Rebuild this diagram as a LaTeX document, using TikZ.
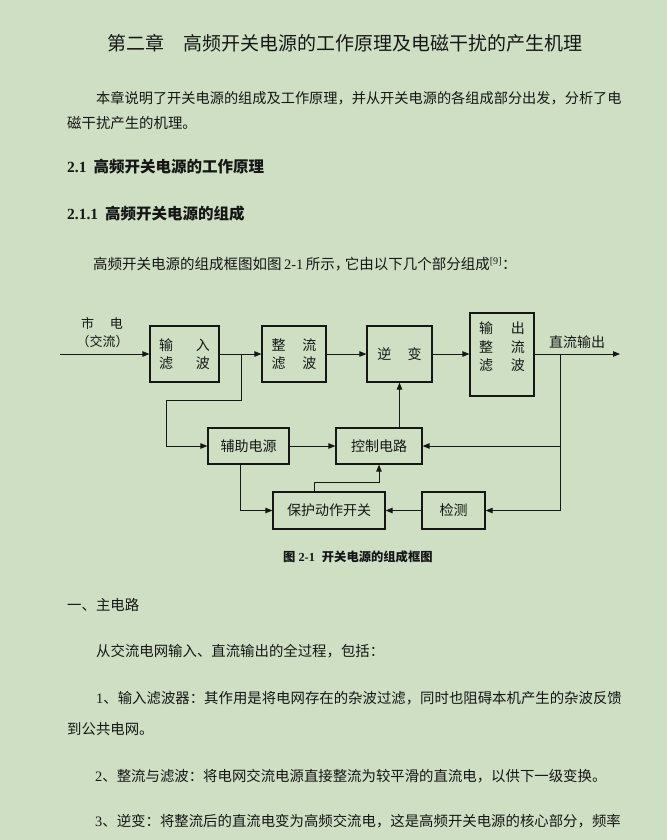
\documentclass[tikz,border=0pt]{standalone}
\usepackage{fontspec}
\setmainfont{Liberation Serif}
\newfontfamily\cjk{Noto Sans CJK SC}
\usetikzlibrary{arrows.meta}
\definecolor{bg}{RGB}{206,223,196}
\definecolor{ink}{RGB}{22,22,22}
\begin{document}
\begin{tikzpicture}[x=1pt,y=-1pt,
  txt/.style={anchor=west, inner sep=0pt, text=ink, font=\fontsize{14.4}{16}\selectfont\cjk},
  head/.style={anchor=west, inner sep=0pt, text=ink, font=\fontsize{15.5}{17}\selectfont\cjk\bfseries},
  blk/.style={draw=ink, line width=1.2pt, inner sep=0pt, text=ink, align=center, font=\fontsize{14}{18}\selectfont\cjk},
  lbl/.style={inner sep=0pt, text=ink, align=center, font=\fontsize{14}{18.5}\selectfont\cjk},
  ln/.style={draw=ink, line width=0.9pt},
  arr/.style={ln, -{Triangle[length=7pt,width=5.5pt]}}]
\path[fill=bg] (0,0) rectangle (667,840);
% ---------- text ----------
\node[txt, font=\fontsize{19}{21}\selectfont\cjk] (title) at (107,43) {第二章　高频开关电源的工作原理及电磁干扰的产生机理};
\node[txt, font=\fontsize{14.2}{16}\selectfont\cjk] (p1) at (96,98) {本章说明了开关电源的组成及工作原理，并从开关电源的各组成部分出发，分析了电};
\node[txt] (p2) at (67,123) {磁干扰产生的机理。};
\node[head] (h1) at (67,167) {{\rmfamily 2.1}\hspace{7pt}高频开关电源的工作原理};
\node[head] (h2) at (67,214) {{\rmfamily 2.1.1}\hspace{7pt}高频开关电源的组成};
\node[txt, font=\fontsize{14.5}{16}\selectfont\cjk] (p3) at (93,264) {高频开关电源的组成框图如图\,{\rmfamily 2-1}\,所示\makebox[10pt][l]{，}它由以下几个部分组成\textsuperscript{\rmfamily [9]}\makebox[8pt][l]{：}};
% ---------- diagram ----------
\node[lbl, font=\fontsize{13}{15}\selectfont\cjk] (ac1) at (102,323) {市\hspace{16pt}电};
\node[lbl, font=\fontsize{13}{15}\selectfont\cjk] (ac2) at (102.5,342) {（交流）};
\node[blk, minimum width=69pt, minimum height=56pt] (b1) at (184.5,354) {输\hspace{23pt}入\\滤\hspace{23pt}波};
\node[blk, minimum width=64pt, minimum height=56pt] (b2) at (294,354) {整\hspace{17pt}流\\滤\hspace{17pt}波};
\node[blk, minimum width=65pt, minimum height=56pt] (b3) at (399.5,354) {逆\hspace{16.5pt}变};
\node[blk, minimum width=64pt, minimum height=83pt] (b4) at (502,354.5) {};
\node[lbl] (b4t) at (502,347) {输\hspace{18pt}出\\整\hspace{18pt}流\\滤\hspace{18pt}波};
\node[lbl] (dcout) at (577,342) {直流输出};
\node[blk, minimum width=81pt, minimum height=36pt] (b5) at (248.5,446) {辅助电源};
\node[blk, minimum width=86pt, minimum height=36pt] (b6) at (379,446) {控制电路};
\node[blk, minimum width=112pt, minimum height=37pt] (b7) at (329,510.5) {保护动作开关};
\node[blk, minimum width=63pt, minimum height=37pt] (b8) at (453.5,510.5) {检测};
\coordinate (in) at (60,354);
\coordinate (out) at (620,354);
\coordinate (j1) at (241,354);
\coordinate (j1a) at (241,400);
\coordinate (j1b) at (166,400);
\coordinate (j2) at (560,354);
\draw[arr] (in) -- (b1.west);
\draw[arr] (b1.east) -- (b2.west);
\draw[arr] (b2.east) -- (b3.west);
\draw[arr] (b3.east) -- (b4.west |- b3.east);
\draw[arr] (b4.east |- b3.east) -- (out);
\draw[arr] (j1) -- (j1a) -- (j1b) |- (b5.west);
\draw[arr] (j2) |- (b6.east);
\draw[arr] (j2) |- (b8.east);
\draw[arr] (b5.east) -- (b6.west);
\draw[arr] (b3.south |- b6.north) -- (b3.south);
\draw[arr] (b8.west) -- (b7.east);
\draw[arr] ([xshift=-8.5pt]b5.south) |- (b7.west);
\draw[arr] ([xshift=-15pt]b7.north) -- ++(0,-9) -| (b6.south);
\node[txt, font=\fontsize{12.3}{14}\selectfont\cjk\bfseries] (cap) at (283,557) {图\hspace{3pt}{\rmfamily 2-1}\hspace{7pt}开关电源的组成框图};
% ---------- text below ----------
\node[txt] (s1) at (67,605) {一、主电路};
\node[txt] (s2) at (96,651) {从交流电网输入、直流输出的全过程，包括：};
\node[txt] (s3) at (96,698) {{\rmfamily 1}、输入滤波器：其作用是将电网存在的杂波过滤，同时也阻碍本机产生的杂波反馈};
\node[txt] (s4) at (67,729) {到公共电网。};
\node[txt] (s5) at (95,776) {{\rmfamily 2}、整流与滤波：将电网交流电源直接整流为较平滑的直流电，以供下一级变换。};
\node[txt] (s6) at (95,821) {{\rmfamily 3}、逆变：将整流后的直流电变为高频交流电，这是高频开关电源的核心部分，频率};
\end{tikzpicture}
\end{document}
